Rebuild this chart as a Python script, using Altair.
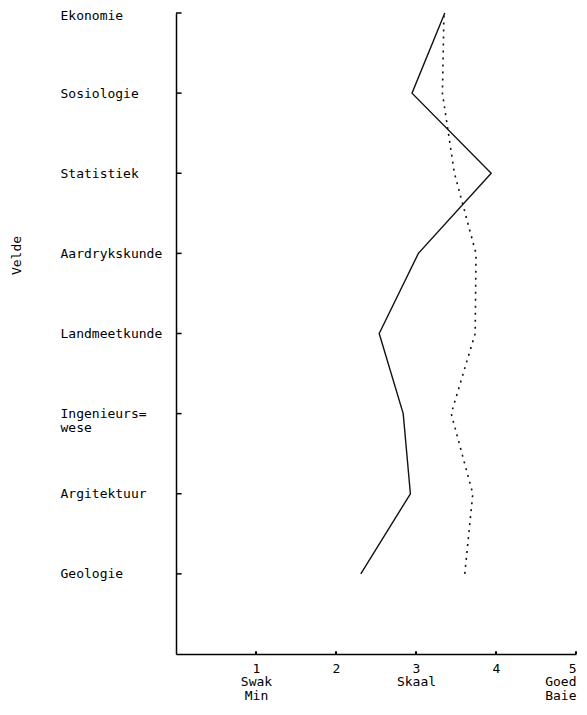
import json
import altair as alt
import pandas as pd

# Categories (top to bottom) and the two series
fields = [["Ekonomie"], ["Sosiologie"], ["Statistiek"], ["Aardrykskunde"],
          ["Landmeetkunde"], ["Ingenieurs=", "wese"], ["Argitektuur"], ["Geologie"]]
solid_vals = [3.36, 2.95, 3.94, 3.03, 2.54, 2.84, 2.93, 2.31]
dotted_vals = [3.35, 3.33, 3.48, 3.75, 3.74, 3.44, 3.71, 3.61]
scale_ticks = [1, 2, 3, 4, 5]
scale_labels = [["1", "Swak", "Min"], ["2"], ["3", "Skaal"], ["4"], ["5", "Goed", "Baie"]]

n = len(fields)
pos = [n - i for i in range(n)]
df = pd.DataFrame({
    "veld": [" ".join(f) for f in fields],
    "pos": pos,
    "solid": solid_vals,
    "dotted": dotted_vals,
})
ticks_df = pd.DataFrame({"t": scale_ticks})

FONT = "DejaVu Sans Mono"


def label_expr(values, labels):
    expr = "['']"
    for v, lab in zip(reversed(values), reversed(labels)):
        expr = "datum.value == %s ? %s : (%s)" % (v, json.dumps(lab), expr)
    return expr


xs = alt.Scale(domain=[0, 5], nice=False, zero=False)
ys = alt.Scale(domain=[0, n], nice=False, zero=False)

x_axis = alt.Axis(values=scale_ticks, labelExpr=label_expr(scale_ticks, scale_labels),
                  ticks=False, grid=False, domainColor="black", domainWidth=1.5,
                  labelFont=FONT, labelFontSize=13, labelPadding=8, labelLineHeight=13.5,
                  labelAlign={"condition": {"test": "datum.value == %d" % scale_ticks[-1],
                                            "value": "right"},
                              "value": "center"},
                  labelColor="black", title=None, labelAngle=0)
y_axis = alt.Axis(values=pos, labelExpr=label_expr(pos, fields),
                  ticks=False, grid=False, domainColor="black", domainWidth=1.5,
                  labelFont=FONT, labelFontSize=13, labelAlign="left",
                  labelBaseline="middle", labelPadding=116, labelLineHeight=14,
                  labelOffset={"condition": {"test": "datum.value == %d" % n, "value": 2},
                               "value": 0},
                  labelColor="black", title="Velde", titleFont=FONT,
                  titleFontSize=13, titleFontWeight="normal", titleColor="black",
                  titleX=-160, titleY=242, titleAlign="center",
                  titleBaseline="middle", titleAngle=-90)

base = alt.Chart(df)

ytick_rules = base.mark_rule(color="black", strokeWidth=1.5).encode(
    x=alt.X(datum=0, scale=xs, axis=x_axis),
    x2=alt.X2(datum=0.07),
    y=alt.Y("pos:Q", scale=ys, axis=y_axis),
)

xtick_rules = alt.Chart(ticks_df).mark_rule(color="black", strokeWidth=2).encode(
    x=alt.X("t:Q", scale=xs, axis=x_axis),
    y=alt.Y(datum=0, scale=ys, axis=y_axis),
    y2=alt.Y2(datum=0.035),
)

solid_line = base.mark_line(color="#111111", strokeWidth=1.4).encode(
    x=alt.X("solid:Q", scale=xs, axis=x_axis),
    y=alt.Y("pos:Q", scale=ys, axis=y_axis),
    order="pos:Q",
)

dotted_line = base.mark_line(color="#111111", strokeWidth=1.6,
                             strokeDash=[2, 5]).encode(
    x=alt.X("dotted:Q", scale=xs, axis=x_axis),
    y=alt.Y("pos:Q", scale=ys, axis=y_axis),
    order="pos:Q",
)

chart = alt.layer(ytick_rules, xtick_rules, solid_line, dotted_line).properties(
    width=400, height=641,
    autosize=alt.AutoSizeParams(type="none"),
    padding={"left": 168, "top": 5, "right": 3, "bottom": 50},
    background="white",
).configure_view(stroke=None)

chart.save("out.html", embed_options={"renderer": "svg", "actions": False})
